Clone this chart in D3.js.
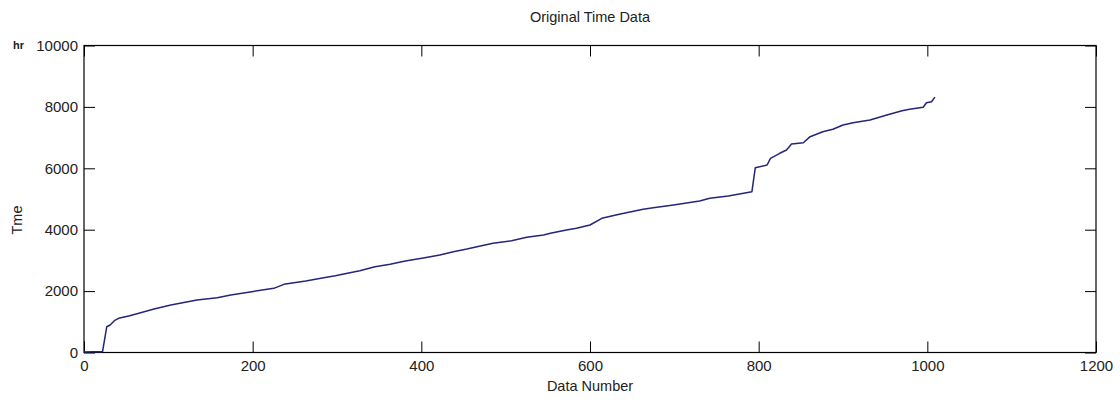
<!DOCTYPE html>
<html>
<head>
<meta charset="utf-8">
<script src="https://cdn.jsdelivr.net/npm/d3@7"></script>
<style>
  html, body { margin: 0; padding: 0; background: #fff; }
  svg { display: block; }
  text { font-family: "Liberation Sans", Arial, sans-serif; fill: #222; }
</style>
</head>
<body>
<svg id="chart" width="1120" height="405"></svg>
<script>
// ---- data ----
const dataNumber = [0, 10, 22, 27, 31, 36, 41, 53, 65, 83, 103, 134, 158, 174, 199, 225, 237, 263, 281, 298,
  308, 327, 345, 363, 381, 404, 422, 438, 454, 466, 485, 507, 525, 545, 553, 572, 584, 600, 614, 636,
  663, 675, 699, 730, 742, 764, 792, 796, 810, 814, 825, 833, 839, 853, 861, 876, 888, 900, 912, 932,
  952, 970, 979, 995, 999, 1005, 1009];
const timeHr = [20, 25, 25, 840, 896, 1036, 1114, 1189, 1277, 1417, 1547, 1710, 1786, 1873, 1981, 2090, 2220, 2329, 2417, 2500,
  2557, 2665, 2795, 2873, 2980, 3088, 3176, 3283, 3371, 3446, 3557, 3642, 3752, 3827, 3883, 3990, 4046, 4153, 4370, 4511,
  4664, 4717, 4805, 4935, 5023, 5098, 5238, 6020, 6108, 6326, 6489, 6596, 6792, 6834, 7030, 7192, 7270, 7410, 7485, 7573,
  7736, 7876, 7922, 7987, 8137, 8169, 8320];
const xTicks = [0, 200, 400, 600, 800, 1000, 1200];
const yTicks = [0, 2000, 4000, 6000, 8000, 10000];
const titleText = "Original Time Data";
const xLabel = "Data Number";
const yLabel = "Tme";
const unitLabel = "hr";

// ---- layout ----
const pL = 84, pR = 1096, pT = 45.5, pB = 352.5;
const tickLen = 11;
const svg = d3.select("#chart");

const x = d3.scaleLinear().domain([0, 1200]).range([pL, pR]);
const y = d3.scaleLinear().domain([0, 10000]).range([pB, pT]);

// ticks (inward, mirrored)
const g = svg.append("g");
const xAxisB = d3.axisBottom(x).tickValues(xTicks).tickSize(-tickLen).tickPadding(8).tickFormat(d3.format("d"));
const xAxisT = d3.axisTop(x).tickValues(xTicks).tickSize(-tickLen).tickFormat("");
const yAxisL = d3.axisLeft(y).tickValues(yTicks).tickSize(-tickLen).tickPadding(6).tickFormat(d3.format("d"));
const yAxisR = d3.axisRight(y).tickValues(yTicks).tickSize(-tickLen).tickFormat("");

function style(sel) {
  sel.select(".domain").remove();
  sel.selectAll(".tick line").attr("stroke", "#000").attr("stroke-width", 1);
  sel.selectAll(".tick text").style("font-size", "15px").style("font-family", "'Liberation Sans', Arial, sans-serif").attr("fill", "#222");
}
g.append("g").attr("transform", `translate(0,${pB})`).call(xAxisB).call(style);
g.append("g").attr("transform", `translate(0,${pT})`).call(xAxisT).call(style);
g.append("g").attr("transform", `translate(${pL},0)`).call(yAxisL).call(style);
g.append("g").attr("transform", `translate(${pR},0)`).call(yAxisR).call(style);

// box
svg.append("rect").attr("x", pL).attr("y", pT).attr("width", pR - pL).attr("height", pB - pT)
  .attr("fill", "none").attr("stroke", "#000").attr("stroke-width", 1.2);

// line
const pts = dataNumber.map((d, i) => [d, timeHr[i]]);
const line = d3.line().x(d => x(d[0])).y(d => y(d[1]));
svg.append("path").datum(pts).attr("d", line).attr("fill", "none")
  .attr("stroke", "#25257a").attr("stroke-width", 1.5).attr("stroke-linejoin", "round");

// texts
svg.append("text").attr("x", 590).attr("y", 22).attr("text-anchor", "middle").style("font-size", "14.5px").text(titleText);
svg.append("text").attr("x", 590).attr("y", 391).attr("text-anchor", "middle").style("font-size", "14.5px").text(xLabel);
svg.append("text").attr("transform", "translate(22,220) rotate(-90)").attr("text-anchor", "middle").style("font-size", "14.5px").text(yLabel);
svg.append("text").attr("x", 13).attr("y", 49).style("font-size", "11px").style("font-weight", "bold").attr("fill", "#1d3030").text(unitLabel);
</script>
</body>
</html>
